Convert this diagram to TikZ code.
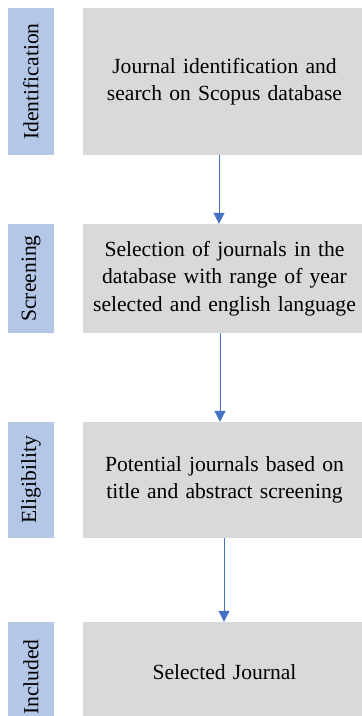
\documentclass[tikz,border=0pt]{standalone}
\usepackage{fontspec}
\setmainfont{Liberation Serif}
\usetikzlibrary{arrows.meta}
\definecolor{tabblue}{HTML}{B4C7E7}
\definecolor{boxgray}{HTML}{D9D9D9}
\definecolor{arrblue}{HTML}{4472C4}
\tikzset{
  tabbox/.style={fill=tabblue, draw=none, rotate=90, inner sep=0pt, anchor=center,
    font=\fontsize{21.6}{26}\selectfont, minimum height=46pt},
  graybox/.style={fill=boxgray, draw=none, inner sep=0pt, anchor=center, align=center,
    font=\fontsize{21.6}{27.5}\selectfont, text width=283pt, minimum width=283pt},
  arr/.style={draw=arrblue, line width=1pt, -{Triangle[width=11pt,length=11pt]}}
}
\begin{document}
\begin{tikzpicture}[x=1pt,y=-1pt]
\useasboundingbox (0,0) rectangle (362,716);
\clip (0,0) rectangle (362,716);
% tabs
\node[tabbox, minimum width=147pt] (t1) at (31,81.5) {Identification};
\node[tabbox, minimum width=109pt] (t2) at (31,278.5) {Screening};
\node[tabbox, minimum width=116pt] (t3) at (31,480) {Eligibility};
\node[tabbox, minimum width=110pt] (t4) at (31,677) {Included};
% gray boxes
\node[graybox, minimum height=147pt] (b1) at (224.5,81.5) {Journal identification and\\search on Scopus database};
\node[graybox, minimum height=109pt] (b2) at (224.5,278.5) {Selection of journals in the\\database with range of year\\selected and english language};
\node[graybox, minimum height=116pt] (b3) at (224.5,480) {Potential journals based on\\title and abstract screening};
\node[graybox, minimum height=100pt] (b4) at (224.5,672) {Selected Journal};
% arrows
\draw[arr] ([xshift=-5.5pt]b1.south) -- ([xshift=-5.5pt]b2.north);
\draw[arr] ([xshift=-4.5pt]b2.south) -- ([xshift=-4.5pt]b3.north);
\draw[arr] ([xshift=-0.5pt]b3.south) -- ([xshift=-0.5pt]b4.north);
\end{tikzpicture}
\end{document}
